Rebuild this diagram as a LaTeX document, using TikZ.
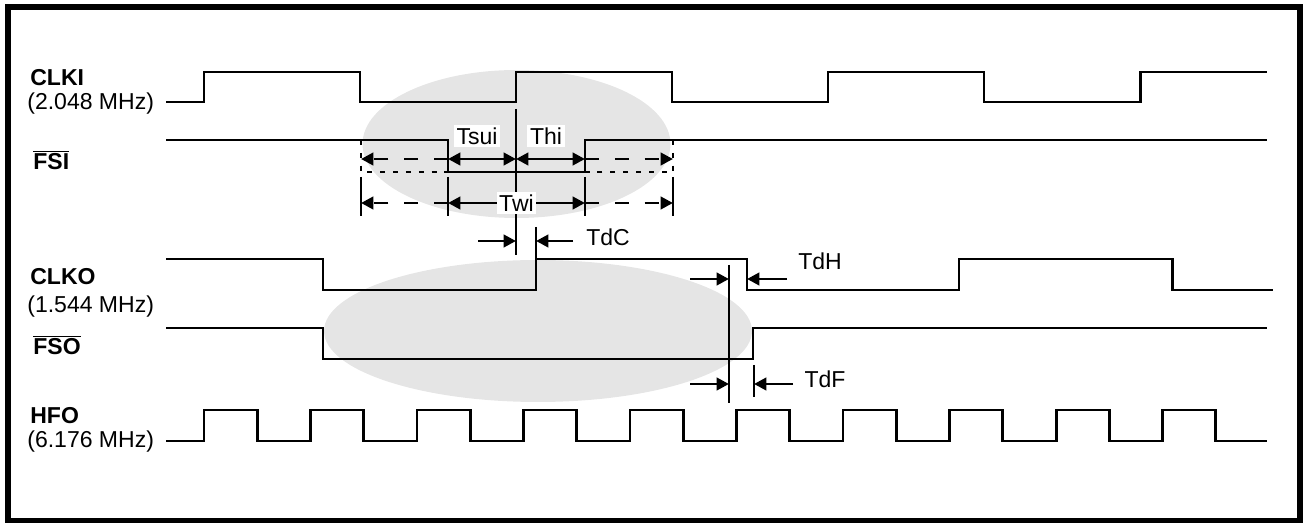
\documentclass[tikz,border=0pt]{standalone}
\usepackage{fontspec}
\setmainfont{Liberation Sans}
\usetikzlibrary{arrows.meta}

\begin{document}
\begin{tikzpicture}[x=0.02cm,y=-0.02cm,
  font=\fontsize{13.1}{15}\selectfont,
  sig/.style={line width=1.7pt},
  thinl/.style={line width=1.1pt},
  dim/.style={line width=1.7pt,-{Triangle[length=7pt,width=7pt]}},
  dimdash/.style={dim,dash pattern=on 8pt off 9pt},
  dimboth/.style={line width=1.7pt,{Triangle[length=7pt,width=7pt]}-{Triangle[length=7pt,width=7pt]}},
  dots/.style={line width=1.3pt,dash pattern=on 2.8pt off 4.5pt},
  lbl/.style={anchor=west,inner sep=0pt},
  wlab/.style={fill=white,inner sep=1.5pt}]
\useasboundingbox (0,0) rectangle (1303,523);
\fill[black!10] (516.5,144) ellipse [x radius=3.08cm, y radius=1.48cm];
\fill[black!10] (538,331) ellipse [x radius=4.28cm, y radius=1.42cm];
\draw[line width=3.4pt] (8,7) rectangle (1300,520.5);
% signal names
\node[lbl] (clki) at (30,78) {\bfseries CLKI};
\node[lbl] (clkifreq) at (27,104) {(2.048 MHz)};
\node[lbl] (fsi) at (33,160) {\bfseries $\overline{\mbox{FSI}}$};
\node[lbl] (clko) at (30,277) {\bfseries CLKO};
\node[lbl] (clkofreq) at (27,307) {(1.544 MHz)};
\node[lbl] (fso) at (33,345) {\bfseries $\overline{\mbox{FSO}}$};
\node[lbl] (hfo) at (30,416) {\bfseries HFO};
\node[lbl] (hfofreq) at (27,442) {(6.176 MHz)};
% waveforms
\draw[sig] (166,102) --++ (38,0) --++ (0,-30) --++ (156,0) --++ (0,30) --++ (156,0) --++ (0,-30) --++ (156,0) --++ (0,30)
  --++ (156,0) --++ (0,-30) --++ (156,0) --++ (0,30) --++ (156,0) --++ (0,-30) --++ (127,0);
\draw[sig] (166,140) --++ (282,0) --++ (0,32) --++ (137,0) --++ (0,-32) --++ (682,0);
\draw[sig] (166,259) --++ (157,0) --++ (0,31) --++ (213,0) --++ (0,-31) --++ (211,0) --++ (0,31) --++ (212,0) --++ (0,-31)
  --++ (213,0) --++ (0,31) --++ (101,0);
\draw[sig] (166,328) --++ (157,0) --++ (0,31) --++ (430,0) --++ (0,-31) --++ (514,0);
\draw[sig] (166,441) \foreach \i in {0,...,9} { -- (204+106.5*\i,441) -- (204+106.5*\i,410) -- (257.25+106.5*\i,410) -- (257.25+106.5*\i,441) } -- (1267,441);
% Tsui, Thi, Twi
\draw[dots] (361,140) -- (361,172) -- (448,172);
\draw[dots] (673,140) -- (673,172) -- (585,172);
\draw[thinl] (361,177) -- (361,216);
\draw[thinl] (448,177) -- (448,216);
\draw[thinl] (585,177) -- (585,216);
\draw[thinl] (673,177) -- (673,216);
\draw[thinl] (516,109) -- (516,255);
\draw[dimdash] (448,159) -- (361,159);
\draw[dimboth] (448,159) -- (516,159);
\draw[dimboth] (516,159) -- (585,159);
\draw[dimdash] (585,159) -- (673,159);
\draw[dimdash] (448,203) -- (361,203);
\draw[dimdash] (585,203) -- (673,203);
\draw[dimboth] (448,203) -- node[wlab] (twi) {Twi} (585,203);
\node[wlab] (tsui) at (477,136) {Tsui};
\node[wlab] (thi) at (546,136) {Thi};
% TdC
\draw[dim] (478,241) -- (516,241);
\draw[dim] (573,241) -- (536,241);
\draw[thinl] (536,227) -- (536,259);
\node (tdc) at (608,237) {TdC};
% TdH, TdF
\draw[thinl] (729,265) -- (729,403);
\draw[dim] (690,279) -- (729,279);
\draw[dim] (787,279) -- (747,279);
\node (tdh) at (820,261) {TdH};
\draw[dim] (690,384) -- (729,384);
\draw[dim] (793,384) -- (754,384);
\draw[thinl] (754,365) -- (754,397);
\node (tdf) at (825,379) {TdF};
\end{tikzpicture}
\end{document}
